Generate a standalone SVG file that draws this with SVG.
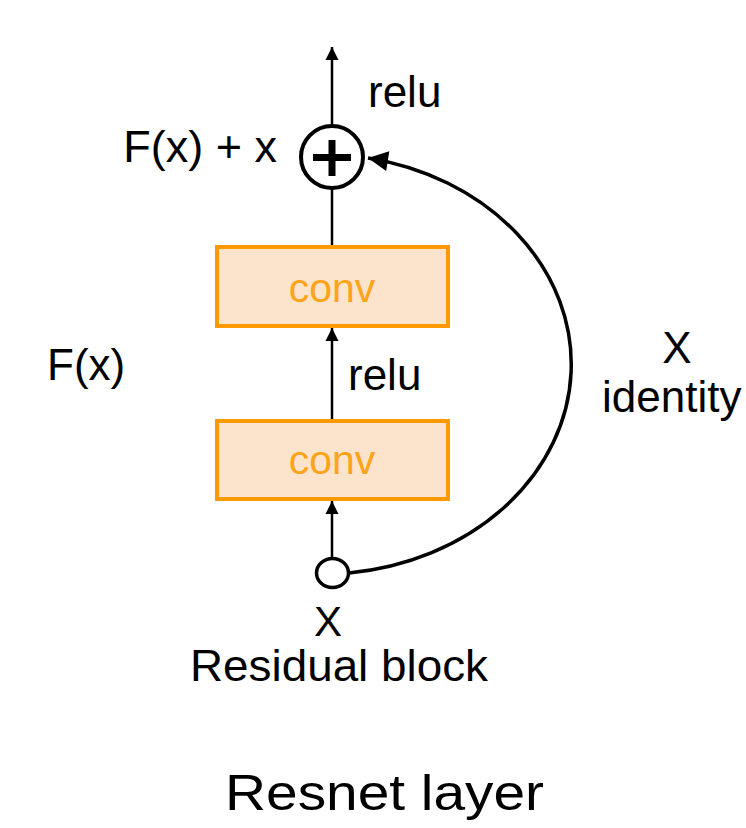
<svg xmlns="http://www.w3.org/2000/svg" width="746" height="828" viewBox="0 0 746 828">
<defs>
<style>
.t{font-family:"Liberation Sans",Arial,sans-serif;fill:#000;}
.box{fill:#FCE4CC;stroke:#FF9900;stroke-width:4;}
.bt{font-family:"Liberation Sans",Arial,sans-serif;fill:#FFA31A;font-size:41px;text-anchor:middle;}
.ln{stroke:#000;stroke-width:2.5;fill:none;}
.cv{stroke:#000;stroke-width:3.5;fill:none;}
</style>
<marker id="ah" viewBox="0 0 10 10" refX="10" refY="5" markerWidth="13" markerHeight="17" markerUnits="userSpaceOnUse" orient="auto"><path d="M0,0 L10,5 L0,10 z" fill="#000"/></marker>
<marker id="ah2" viewBox="0 0 10 10" refX="10" refY="5" markerWidth="30" markerHeight="20" markerUnits="userSpaceOnUse" orient="auto"><path d="M0,0 L10,5 L0,10 z" fill="#000"/></marker>
</defs>
<rect width="746" height="828" fill="#fff"/>
<g id="connectors">
<line class="ln" x1="332" y1="125" x2="332" y2="47" marker-end="url(#ah)"/>
<line class="ln" x1="332" y1="247" x2="332" y2="186"/>
<line class="ln" x1="332" y1="421" x2="332" y2="328" marker-end="url(#ah)"/>
<line class="ln" x1="332" y1="558" x2="332" y2="501" marker-end="url(#ah)"/>
<path class="cv" d="M349,573 A250,210 0 0 0 368,158" marker-end="url(#ah2)"/>
</g>
<g id="plus">
<circle cx="332" cy="157" r="31" fill="#fff" stroke="#000" stroke-width="4"/>
<rect x="313" y="154" width="38" height="7" fill="#000"/>
<rect x="328.5" y="140" width="7" height="36" fill="#000"/>
</g>
<g id="conv1">
<rect class="box" x="217" y="247" width="231" height="79"/>
<text class="bt" x="332" y="302">conv</text>
</g>
<g id="conv2">
<rect class="box" x="217" y="421" width="231" height="78"/>
<text class="bt" x="332" y="474">conv</text>
</g>
<g id="input">
<ellipse cx="332.5" cy="573" rx="16" ry="14.5" fill="#fff" stroke="#000" stroke-width="3.5"/>
</g>
<g id="labels">
<text class="t" x="368" y="107" font-size="44">relu</text>
<text class="t" x="277" y="162" font-size="45" text-anchor="end">F(x) + x</text>
<text class="t" x="47" y="380" font-size="44">F(x)</text>
<text class="t" x="348" y="390" font-size="44">relu</text>
<text class="t" x="677" y="363" font-size="44" text-anchor="middle">X</text>
<text class="t" x="602" y="412" font-size="44">identity</text>
<text class="t" x="328" y="636" font-size="42" text-anchor="middle">X</text>
<text class="t" x="190" y="681" font-size="44" textLength="298" lengthAdjust="spacingAndGlyphs">Residual block</text>
<text class="t" x="225" y="810" font-size="50" textLength="319" lengthAdjust="spacingAndGlyphs">Resnet layer</text>
</g>
</svg>
